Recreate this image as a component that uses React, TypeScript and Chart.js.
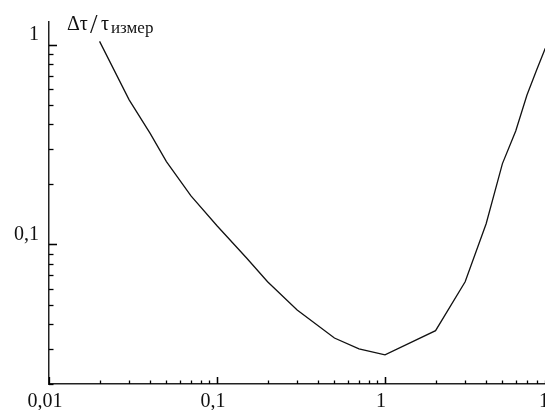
import React, { useEffect, useRef } from "react";
import { Chart, registerables } from "chart.js";

Chart.register(...registerables);

// Data (log-log plot)
const xValues = [0.02, 0.03, 0.04, 0.05, 0.07, 0.1, 0.15, 0.2, 0.3, 0.5, 0.7, 1, 2, 3, 4, 5, 6, 7, 8, 9];
const yValues = [1.04, 0.53, 0.36, 0.26, 0.175, 0.124, 0.0855, 0.065, 0.047, 0.034, 0.03, 0.028, 0.037, 0.065, 0.127, 0.254, 0.37, 0.56, 0.75, 0.96];

const xRange = [0.01, 10];
const yRange = [0.02, 1.3];

// tick positions (decades and in-decade multipliers)
const xDecades = [0.01, 0.1, 1];
const yDecades = [0.01, 0.1, 1];
const tickMultipliers = [1, 2, 3, 4, 5, 6, 7, 8, 9, 10];

const titleMain = "Δτ";
const titleSlash = "/";
const titleTau = "τ";
const titleSub = "измер";

const FONT = "'Liberation Serif', 'Times New Roman', serif";

const isPow10 = (v: number) => {
  const lg = Math.log10(v);
  return Math.abs(lg - Math.round(lg)) < 1e-9;
};
const fmt = (v: number) => String(v).replace(".", ",");

const innerTicks = {
  id: "innerTicks",
  afterDraw(chart: any) {
    const ctx = chart.ctx;
    const { left, bottom } = chart.chartArea;
    const xs = chart.scales.x;
    const ys = chart.scales.y;
    ctx.save();
    ctx.globalAlpha = 1;
    ctx.setLineDash([]);
    ctx.strokeStyle = "#000";
    ctx.lineWidth = 1.3;
    for (const d of xDecades) {
      for (const m of tickMultipliers) {
        const v = d * m;
        if (v < xRange[0] - 1e-12 || v > xRange[1] + 1e-9) continue;
        const px = Math.round(xs.getPixelForValue(v)) + 0.5;
        ctx.beginPath();
        ctx.moveTo(px, bottom);
        ctx.lineTo(px, bottom - (m === 1 || m === 10 ? 7 : 3.5));
        ctx.stroke();
      }
    }
    for (const d of yDecades) {
      for (const m of tickMultipliers) {
        const v = d * m;
        if (v < yRange[0] - 1e-12 || v > yRange[1] + 1e-9) continue;
        const py = Math.round(ys.getPixelForValue(v)) + 0.5;
        ctx.beginPath();
        ctx.moveTo(left, py);
        ctx.lineTo(left + (m === 1 || m === 10 ? 8 : 4.5), py);
        ctx.stroke();
      }
    }
    // axis label text
    ctx.fillStyle = "#111";
    ctx.textBaseline = "alphabetic";
    ctx.textAlign = "left";
    ctx.font = `20px ${FONT}`;
    ctx.fillText(titleMain, 67, 30);
    ctx.font = `27px ${FONT}`;
    ctx.fillText(titleSlash, 90, 33);
    ctx.font = `20px ${FONT}`;
    ctx.fillText(titleTau, 101, 30);
    ctx.font = `17px ${FONT}`;
    ctx.fillText(titleSub, 111, 33);
    ctx.restore();
  },
};

export default function App() {
  const ref = useRef<HTMLCanvasElement | null>(null);
  useEffect(() => {
    if (!ref.current) return;
    const chart = new Chart(ref.current, {
      type: "line",
      data: {
        datasets: [
          {
            data: xValues.map((x, i) => ({ x, y: yValues[i] })),
            borderColor: "#111",
            borderWidth: 1.3,
            pointRadius: 0,
            tension: 0,
            fill: false,
          },
        ],
      },
      options: {
        animation: false,
        responsive: false,
        events: [],
        layout: { padding: { left: 0, right: 40, top: 15, bottom: 0 } },
        plugins: { legend: { display: false }, tooltip: { enabled: false }, title: { display: false } },
        scales: {
          x: {
            type: "logarithmic",
            min: xRange[0],
            max: xRange[1],
            afterFit: (s: any) => {
              s.height = 26;
            },
            grid: { display: false, drawTicks: false },
            border: { display: true, color: "#222", width: 1.5 },
            ticks: {
              autoSkip: false,
              maxRotation: 0,
              padding: 6,
              labelOffset: -4,
              color: "#111",
              font: { family: FONT, size: 20 },
              callback: (v: any) => (isPow10(Number(v)) ? fmt(Number(v)) : ""),
            },
          },
          y: {
            type: "logarithmic",
            min: yRange[0],
            max: yRange[1],
            afterFit: (s: any) => {
              s.width = 49;
            },
            grid: { display: false, drawTicks: false },
            border: { display: true, color: "#222", width: 1.5 },
            ticks: {
              autoSkip: false,
              padding: 10,
              labelOffset: -10,
              color: "#111",
              font: { family: FONT, size: 20 },
              callback: (v: any) => (isPow10(Number(v)) ? fmt(Number(v)) : ""),
            },
          },
        },
      },
      plugins: [innerTicks],
    });
    return () => chart.destroy();
  }, []);
  return (
    <div style={{ position: "fixed", left: 0, top: 0, width: 545, height: 410, overflow: "hidden", background: "#fff" }}>
      <canvas ref={ref} width={593} height={410} style={{ width: 593, height: 410, display: "block" }} />
    </div>
  );
}
